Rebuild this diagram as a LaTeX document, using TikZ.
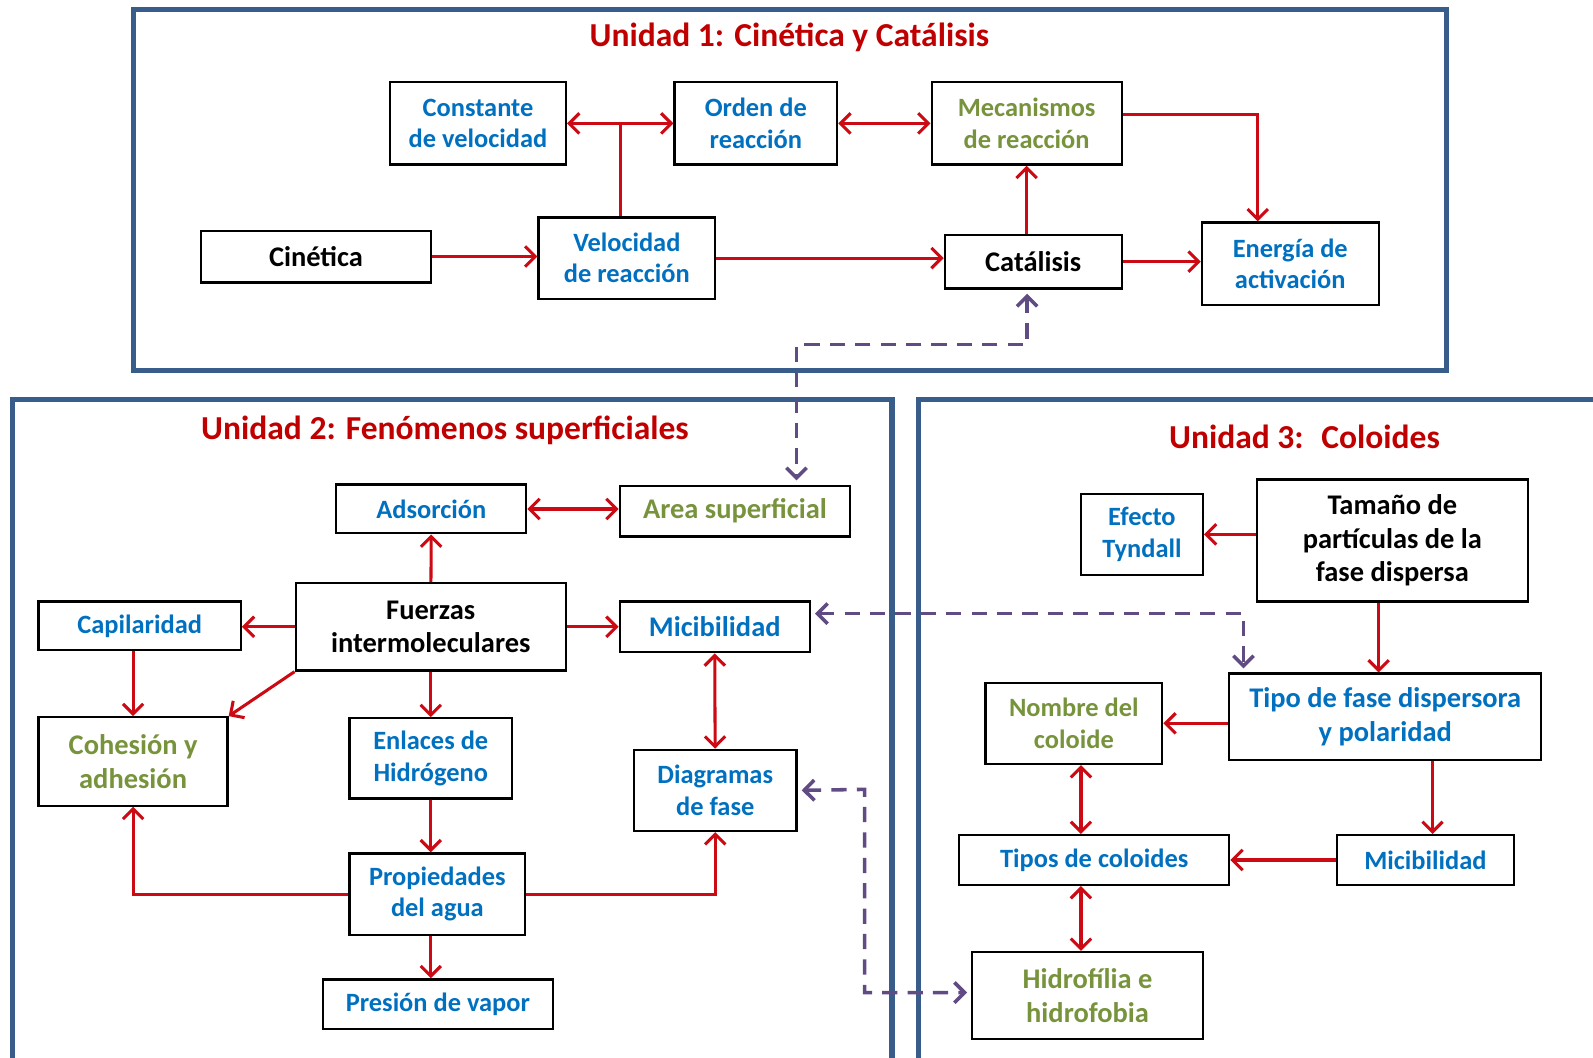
\documentclass[tikz,border=0pt]{standalone}
\usepackage{fontspec}
\setmainfont{Carlito}
\usetikzlibrary{arrows.meta}

\definecolor{framebl}{RGB}{56,93,138}
\definecolor{titred}{RGB}{192,0,0}
\definecolor{arrred}{RGB}{204,10,20}
\definecolor{txtblue}{RGB}{0,112,192}
\definecolor{txtgreen}{RGB}{119,147,60}
\definecolor{purp}{RGB}{96,75,130}

\begin{document}
\begin{tikzpicture}[
  x=1pt, y=-1pt, >={Straight Barb[length=10pt,width=20pt]},
  box/.style={draw, line width=2.2pt, fill=white, align=center, inner sep=2pt,
              font=\bfseries\fontsize{26}{31}\selectfont},
  big/.style={font=\bfseries\fontsize{28}{33}\selectfont},
  bl/.style={box, text=txtblue},
  gr/.style={box, text=txtgreen},
  bk/.style={box, text=black, big},
  title/.style={text=titred, font=\bfseries\fontsize{33}{38}\selectfont},
  unit/.style={draw=framebl, line width=5pt},
  link/.style={draw=arrred, line width=3pt},
  dlink/.style={draw=purp, line width=3.5pt, dash pattern=on 15pt off 10pt,
                shorten <=4pt, shorten >=4pt}
]
\useasboundingbox (0,0) rectangle (1568,1041);

% frames of the three units
\draw[unit] (131,9) rectangle (1424,365);
\draw[unit] (12,1041) -- (12,393) -- (878,393) -- (878,1041);
\draw[unit] (904,1041) -- (904,393) -- (1568,393);

\node[title] (t1) at (777,37) {Unidad 1: Cinética y Catálisis};
\node[title] (t2) at (438,424) {Unidad 2: Fenómenos superficiales};
\node[title] (t3) at (1284,430) {Unidad 3:~ Coloides};

% Unidad 1
\node[bl, minimum width=173pt, minimum height=81pt] (const) at (470.5,121.5) {Constante\\de velocidad};
\node[bl, minimum width=160pt, minimum height=81pt] (orden) at (744,121.5) {Orden de\\reacción};
\node[gr, minimum width=187pt, minimum height=81pt] (meca) at (1010.5,121.5) {Mecanismos\\de reacción};
\node[bk, minimum width=226pt, minimum height=51pt] (cin) at (311,252.5) {Cinética};
\node[bl, minimum width=174pt, minimum height=80pt] (vel) at (617,254) {Velocidad\\de reacción};
\node[bk, minimum width=174pt, minimum height=53pt] (cat) at (1017,257.5) {Catálisis};
\node[bl, minimum width=174pt, minimum height=81pt] (ener) at (1270,259.5) {Energía de\\activación};

% Unidad 2
\node[bl, minimum width=187pt, minimum height=48pt] (ads) at (424.5,501) {Adsorción};
\node[gr, big, minimum width=227pt, minimum height=50pt] (area) at (723.5,503) {Area superficial};
\node[bl, minimum width=199pt, minimum height=48pt] (capi) at (137.5,616) {Capilaridad};
\node[bk, minimum width=266pt, minimum height=86pt] (fuer) at (424,617) {Fuerzas\\intermoleculares};
\node[bl, big, minimum width=187pt, minimum height=50pt] (mici) at (703.5,617) {Micibilidad};
\node[gr, big, minimum width=186pt, minimum height=87pt] (cohe) at (131,749.5) {Cohesión y\\adhesión};
\node[bl, minimum width=160pt, minimum height=79pt] (enla) at (424,746.5) {Enlaces de\\Hidrógeno};
\node[bl, minimum width=160pt, minimum height=80pt] (diag) at (704,778) {Diagramas\\de fase};
\node[bl, minimum width=173pt, minimum height=80pt] (prop) at (430.5,880) {Propiedades\\del agua};
\node[bl, minimum width=226pt, minimum height=49pt] (pres) at (431,988.5) {Presión de vapor};

% Unidad 3
\node[bl, minimum width=120pt, minimum height=80pt] (efec) at (1124,526) {Efecto\\Tyndall};
\node[bk, minimum width=267pt, minimum height=120pt] (tama) at (1370.5,532) {Tamaño de\\partículas de la\\fase dispersa};
\node[gr, minimum width=174pt, minimum height=80pt] (nomb) at (1057,712) {Nombre del\\coloide};
\node[bl, big, minimum width=307pt, minimum height=85pt] (tipo) at (1363.5,705.5) {Tipo de fase dispersora\\y polaridad};
\node[bl, minimum width=266pt, minimum height=49pt] (tipos) at (1077,846.5) {Tipos de coloides};
\node[bl, minimum width=174pt, minimum height=49pt] (mic3) at (1403,846.5) {Micibilidad};
\node[gr, big, minimum width=227pt, minimum height=86pt] (hidr) at (1070.5,980) {Hidrofília e\\hidrofobia};

% bends of the connectors
\coordinate (v1) at (611,121.5);
\coordinate (m1) at (1238,113);
\coordinate (k1) at (1011,339);
\coordinate (k2) at (784,339);
\coordinate (k3) at (1224,604);
\coordinate (k4) at (851,777);
\coordinate (k5) at (851,977);
\coordinate (c1) at (1357,0);
\coordinate (c2) at (1410,0);
\coordinate (c3) at (1064,0);

% red connectors
\draw[link] (v1 |- vel.north) -- (v1);
\draw[link, <->] (const) -- (orden);
\draw[link, <->] (orden) -- (meca);
\draw[link, ->] (meca.east |- m1) -- (m1) -- (m1 |- ener.north);
\draw[link, ->] (cin.east) -- (cin.east -| vel.west);
\draw[link, ->] (vel.east) -- (vel.east -| cat.west);
\draw[link, ->] (meca.south |- cat.north) -- (meca.south);
\draw[link, ->] (cat.east) -- (cat.east -| ener.west);

\draw[link, ->] (fuer) -- (ads);
\draw[link, <->] (ads.east) -- (ads.east -| area.west);
\draw[link, ->] (fuer.west) -- (fuer.west -| capi.east);
\draw[link, ->] (fuer.east) -- (fuer.east -| mici.west);
\draw[link, ->] (fuer.south west) -- (cohe.north east);
\draw[link, ->] (cohe.north |- capi.south) -- (cohe.north);
\draw[link, ->] (fuer) -- (enla);
\draw[link, ->] (enla.south) -- (enla.south |- prop.north);
\draw[link, ->] (prop.west) -| (cohe.south);
\draw[link, ->] (prop.east) -| (diag.south);
\draw[link, <->] (mici) -- (diag);
\draw[link, ->] (enla.south |- prop.south) -- (enla.south |- pres.north);

\draw[link, ->] (tama.west |- efec.east) -- (efec.east);
\draw[link, ->] (c1 |- tama.south) -- (c1 |- tipo.north);
\draw[link, ->] (nomb.east -| tipo.west) -- (nomb.east);
\draw[link, ->] (c2 |- tipo.south) -- (c2 |- mic3.north);
\draw[link, ->] (mic3) -- (tipos);
\draw[link, <->] (c3 |- nomb.south) -- (c3 |- tipos.north);
\draw[link, <->] (c3 |- tipos.south) -- (c3 |- hidr.north);

% dashed links between units
\draw[dlink, <->] (k1 |- cat.south) -- (k1) -- (k2) -- (k2 |- area.north);
\draw[dlink, <->] (mici.east |- k3) -- (k3) -- (k3 |- tipo.north);
\draw[dlink, <->] (diag.east) -- (k4) -- (k5) -- (k5 -| hidr.west);
\end{tikzpicture}
\end{document}
